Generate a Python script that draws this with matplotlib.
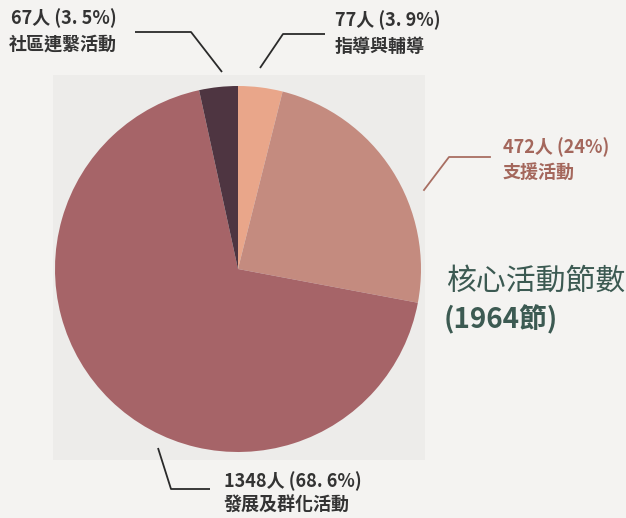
"""
Pie chart of core activity sessions (1964 sessions), four categories.
"""

import matplotlib
matplotlib.use("Agg")
import matplotlib.pyplot as plt
from matplotlib.patches import Rectangle

plt.rcParams["font.family"] = ["Noto Sans CJK TC", "DejaVu Sans"]

# ── Data ────────────────────────────────────────────────────────────────────
categories = ["指導與輔導", "支援活動", "發展及群化活動", "社區連繫活動"]
counts = [77, 472, 1348, 67]
percent_labels = ["3. 9%", "24%", "68. 6%", "3. 5%"]
colors = ["#E9A68A", "#C48B7F", "#A66468", "#4E3541"]
total_sessions = 1964

W, H = 626, 518


def py(y):
    # pixel row (top origin) -> data y
    return H - y


def main() -> None:
    fig = plt.figure(figsize=(W / 100, H / 100), dpi=100)
    fig.patch.set_facecolor("#F4F3F1")
    ax = fig.add_axes([0, 0, 1, 1])

    # faint panel behind the pie
    ax.add_patch(Rectangle((53, py(460)), 372, 385, facecolor="#EDECEA",
                           edgecolor="none", zorder=0))

    ax.pie(counts, colors=colors, startangle=90, counterclock=False,
           center=(238, py(269)), radius=183, frame=True,
           wedgeprops=dict(linewidth=0), normalize=True)
    ax.set_xlim(0, W)
    ax.set_ylim(0, H)
    ax.set_aspect("equal")
    ax.axis("off")

    dark = "#333333"
    lbl_kw = dict(fontsize=13, fontweight="bold")

    # ── Leader lines ────────────────────────────────────────────────────────
    line_kw = dict(color="#2a2a2a", linewidth=1.3, solid_capstyle="butt")
    ax.plot([222, 191, 135], [py(72), py(32), py(32)], **line_kw)
    ax.plot([260, 283, 325], [py(68), py(34), py(34)], **line_kw)
    ax.plot([424, 449, 490], [py(190), py(157), py(157)],
            color="#A86E62", linewidth=1.3)
    ax.plot([158, 171, 210], [py(448), py(489), py(489)], **line_kw)

    # ── Labels ──────────────────────────────────────────────────────────────
    ax.text(117, py(18), f"{counts[3]}人 ({percent_labels[3]})", ha="right",
            va="center", color=dark, **lbl_kw)
    ax.text(117, py(44), categories[3], ha="right", va="center",
            color=dark, **lbl_kw)

    ax.text(335, py(20), f"{counts[0]}人 ({percent_labels[0]})", ha="left",
            va="center", color=dark, **lbl_kw)
    ax.text(335, py(46), categories[0], ha="left", va="center",
            color=dark, **lbl_kw)

    support_col = "#A4675C"
    ax.text(503, py(147), f"{counts[1]}人 ({percent_labels[1]})", ha="left",
            va="center", color=support_col, **lbl_kw)
    ax.text(503, py(172), categories[1], ha="left", va="center",
            color=support_col, **lbl_kw)

    ax.text(224, py(481), f"{counts[2]}人 ({percent_labels[2]})", ha="left",
            va="center", color=dark, **lbl_kw)
    ax.text(224, py(505), categories[2], ha="left", va="center",
            color=dark, **lbl_kw)

    # ── Title block ─────────────────────────────────────────────────────────
    title_col = "#3C5A52"
    ax.text(446, py(281), "核心活動節數", ha="left", va="center",
            color=title_col, fontsize=21.5, fontweight="medium")
    ax.text(444, py(320), f"({total_sessions}節)", ha="left", va="center",
            color=title_col, fontsize=20, fontweight="bold")

    fig.savefig("out.png", dpi=100, facecolor=fig.get_facecolor())
    plt.close(fig)


if __name__ == "__main__":
    main()
